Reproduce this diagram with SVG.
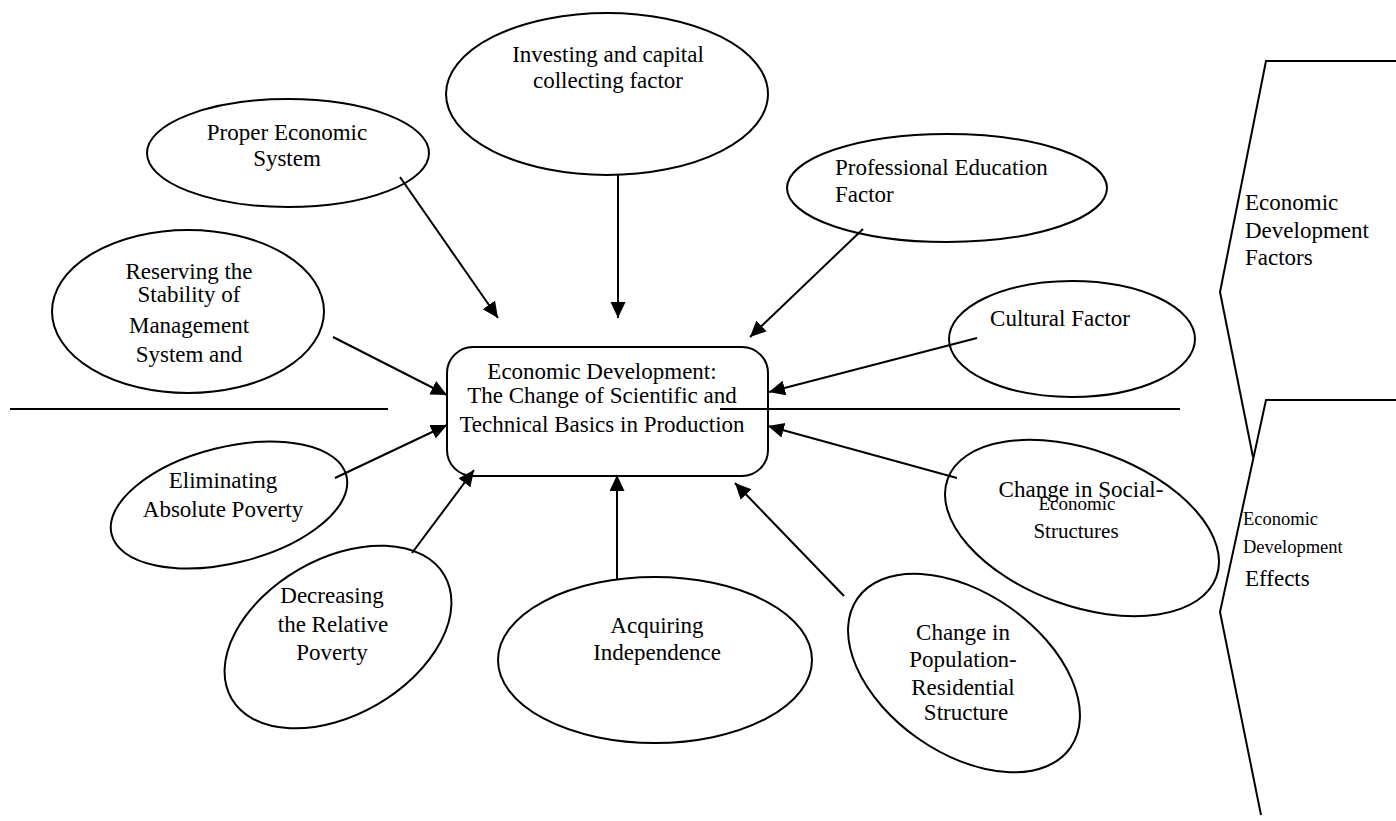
<svg xmlns="http://www.w3.org/2000/svg" width="1396" height="821" viewBox="0 0 1396 821">
<style>
text{font-family:"Liberation Serif","Times New Roman",serif;font-size:23px;fill:#000}
.m{text-anchor:middle}
.node{fill:#fff;stroke:#000;stroke-width:2}
.ln{stroke:#000;stroke-width:2;fill:none}
.arr{stroke:#000;stroke-width:2;fill:none;marker-end:url(#ah)}
</style>
<defs>
<marker id="ah" markerUnits="userSpaceOnUse" markerWidth="18" markerHeight="16" refX="16" refY="7.5" orient="auto">
<path d="M0,0 L16,7.5 L0,15 z" fill="#000"/>
</marker>
</defs>
<rect width="1396" height="821" fill="#fff"/>

<g id="dividers">
<line class="ln" x1="10" y1="409" x2="388" y2="409"/>
<line class="ln" x1="720" y1="409" x2="1180" y2="409"/>
</g>

<g id="factors-label">
<polyline class="ln" points="1396,61 1266,61 1220,292 1253,457"/>
<text x="1245" y="210">Economic</text>
<text x="1245" y="238">Development</text>
<text x="1245" y="265">Factors</text>
</g>
<g id="effects-label">
<polyline class="ln" points="1396,400 1266,400 1220,612 1261,815"/>
<text x="1243" y="525" style="font-size:18.5px">Economic</text>
<text x="1243" y="553" style="font-size:18.5px">Development</text>
<text x="1245" y="586">Effects</text>
</g>

<g id="proper">
<ellipse class="node" cx="288" cy="153" rx="141" ry="54"/>
<text class="m" x="287" y="140">Proper Economic</text>
<text class="m" x="287" y="166">System</text>
</g>
<g id="investing">
<ellipse class="node" cx="607" cy="94" rx="161" ry="81"/>
<text class="m" x="608" y="62">Investing and capital</text>
<text class="m" x="608" y="88">collecting factor</text>
</g>
<g id="professional">
<ellipse class="node" cx="947" cy="188" rx="160" ry="54"/>
<text x="835" y="175">Professional Education</text>
<text x="835" y="202">Factor</text>
</g>
<g id="reserving">
<ellipse class="node" cx="188" cy="311.5" rx="136" ry="81.5"/>
<text class="m" x="189" y="279">Reserving the</text>
<text class="m" x="189" y="302">Stability of</text>
<text class="m" x="189" y="333">Management</text>
<text class="m" x="189" y="362">System and</text>
</g>
<g id="cultural">
<ellipse class="node" cx="1072" cy="339" rx="123" ry="58"/>
<text class="m" x="1060" y="326">Cultural Factor</text>
</g>
<g id="eliminating">
<ellipse class="node" cx="229" cy="505" rx="121" ry="58" transform="rotate(-14 229 505)"/>
<text class="m" x="223" y="488">Eliminating</text>
<text class="m" x="223" y="517">Absolute Poverty</text>
</g>
<g id="decreasing">
<ellipse class="node" cx="338" cy="637" rx="123" ry="78" transform="rotate(-30 338 637)"/>
<text class="m" x="332" y="603">Decreasing</text>
<text class="m" x="333" y="632">the Relative</text>
<text class="m" x="332" y="660">Poverty</text>
</g>
<g id="acquiring">
<ellipse class="node" cx="655" cy="660" rx="157" ry="83"/>
<text class="m" x="657" y="633">Acquiring</text>
<text class="m" x="657" y="660">Independence</text>
</g>
<g id="population">
<ellipse class="node" cx="964" cy="673" rx="130" ry="80" transform="rotate(35 964 673)"/>
<text class="m" x="963" y="640">Change in</text>
<text class="m" x="963" y="667">Population-</text>
<text class="m" x="963" y="695">Residential</text>
<text class="m" x="966" y="720">Structure</text>
</g>
<g id="social">
<ellipse class="node" cx="1082" cy="528" rx="143" ry="78" transform="rotate(20 1082 528)"/>
<text class="m" x="1081" y="497">Change in Social-</text>
<text class="m" x="1077" y="510" style="font-size:19px">Economic</text>
<text class="m" x="1076" y="538" style="font-size:21px">Structures</text>
</g>

<g id="center">
<rect class="node" x="447" y="347" width="321" height="129" rx="26" ry="26"/>
<text class="m" x="602" y="379">Economic Development:</text>
<text class="m" x="602" y="403">The Change of Scientific and</text>
<text class="m" x="602" y="432">Technical Basics in Production</text>
</g>

<g id="connectors">
<line class="arr" x1="400" y1="177" x2="498" y2="318"/>
<line class="arr" x1="618" y1="175" x2="618" y2="318"/>
<line class="arr" x1="863" y1="229" x2="750" y2="337"/>
<line class="arr" x1="333" y1="337" x2="447" y2="395"/>
<line class="arr" x1="977" y1="338" x2="769" y2="392"/>
<line class="arr" x1="335" y1="478" x2="447" y2="425"/>
<line class="arr" x1="957" y1="478" x2="768" y2="426"/>
<line class="arr" x1="412" y1="553" x2="474" y2="470"/>
<line class="arr" x1="617" y1="579" x2="617" y2="475"/>
<line class="arr" x1="844" y1="596" x2="735" y2="483"/>
</g>
<line class="ln" x1="720" y1="409" x2="768" y2="409"/>
</svg>
